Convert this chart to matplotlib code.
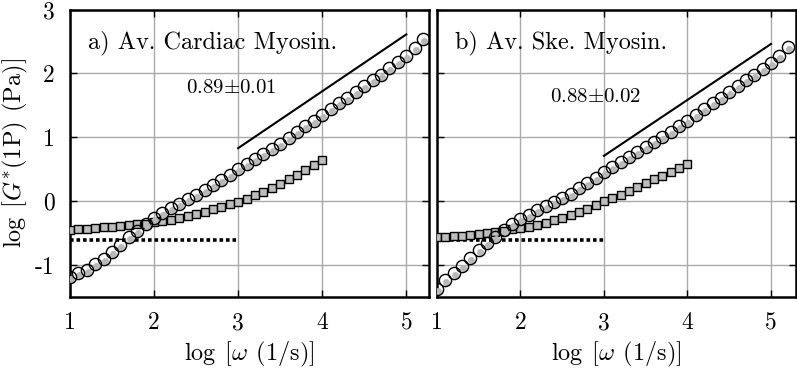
import numpy as np
import matplotlib
matplotlib.use("Agg")
import matplotlib.pyplot as plt
import matplotlib.transforms as mtransforms

plt.rcParams['font.family'] = ['cmr10', 'DejaVu Serif']
plt.rcParams['mathtext.fontset'] = 'cm'
plt.rcParams['axes.unicode_minus'] = False
plt.rcParams['axes.formatter.use_mathtext'] = True

# ---------------- data ----------------
w_circ = [1.0, 1.1, 1.2, 1.3, 1.4, 1.5, 1.6, 1.7, 1.8, 1.9, 2.0, 2.1, 2.2, 2.3, 2.4,
          2.5, 2.6, 2.7, 2.8, 2.9, 3.0, 3.1, 3.2, 3.3, 3.4, 3.5, 3.6, 3.7, 3.8, 3.9,
          4.0, 4.1, 4.2, 4.3, 4.4, 4.5, 4.6, 4.7, 4.8, 4.9, 5.0, 5.1, 5.2]
w_sq = [1.0, 1.1, 1.2, 1.3, 1.4, 1.5, 1.6, 1.7, 1.8, 1.9, 2.0, 2.1, 2.2, 2.3, 2.4,
        2.5, 2.6, 2.7, 2.8, 2.9, 3.0, 3.1, 3.2, 3.3, 3.4, 3.5, 3.6, 3.7, 3.8, 3.9, 4.0]

g_circ_a = [-1.18, -1.13, -1.07, -0.99, -0.90, -0.80, -0.68, -0.56, -0.46, -0.36,
            -0.27, -0.19, -0.11, -0.04, 0.03, 0.10, 0.17, 0.25, 0.33, 0.41,
            0.50, 0.58, 0.66, 0.74, 0.82, 0.90, 0.99, 1.08, 1.17, 1.26,
            1.35, 1.44, 1.53, 1.62, 1.71, 1.80, 1.89, 1.98, 2.08, 2.18,
            2.28, 2.40, 2.54]
g_sq_a = [-0.45, -0.44, -0.43, -0.42, -0.41, -0.40, -0.39, -0.38, -0.36, -0.35,
          -0.33, -0.31, -0.29, -0.26, -0.23, -0.20, -0.17, -0.13, -0.09, -0.05,
          -0.01, 0.04, 0.09, 0.15, 0.21, 0.27, 0.34, 0.41, 0.49, 0.57, 0.65]

g_circ_b = [-1.38, -1.24, -1.13, -1.01, -0.89, -0.77, -0.66, -0.56, -0.45, -0.36,
            -0.28, -0.21, -0.14, -0.08, -0.02, 0.05, 0.12, 0.20, 0.28, 0.36,
            0.45, 0.53, 0.61, 0.69, 0.77, 0.85, 0.93, 1.01, 1.09, 1.17,
            1.26, 1.35, 1.44, 1.53, 1.62, 1.71, 1.80, 1.89, 1.98, 2.07,
            2.16, 2.28, 2.42]
g_sq_b = [-0.56, -0.555, -0.55, -0.54, -0.53, -0.52, -0.50, -0.48, -0.46, -0.44,
          -0.42, -0.40, -0.37, -0.34, -0.30, -0.27, -0.22, -0.17, -0.12, -0.06,
          0.00, 0.05, 0.10, 0.16, 0.22, 0.28, 0.34, 0.40, 0.46, 0.52, 0.58]

fit_x = [3.0, 5.0]
fit_a = [0.83, 2.61]
fit_b = [0.71, 2.46]
plateau_x = [1.0, 3.0]
plateau_a = [-0.6, -0.6]
plateau_b = [-0.6, -0.6]

titles = ['a) Av. Cardiac Myosin.', 'b) Av. Ske. Myosin.']
slopes = [r'$0.89{\pm}0.01$', r'$0.88{\pm}0.02$']
xticks = [1, 2, 3, 4, 5]
yticks = [-1, 0, 1, 2, 3]

# ---------------- figure ----------------
W, H = 797, 369
fig = plt.figure(figsize=(W / 100, H / 100), dpi=100)

def px_axes(l, r, t, b):
    return fig.add_axes([l / W, 1 - b / H, (r - l) / W, (b - t) / H])

axA = px_axes(70, 429, 9.5, 297)
axB = px_axes(437, 796, 9.5, 297)

panels = [
    (axA, g_circ_a, g_sq_a, fit_a, plateau_a, 5.27, (0.45, 0.727)),
    (axB, g_circ_b, g_sq_b, fit_b, plateau_b, 5.30, (0.443, 0.696)),
]

for i, (ax, gc, gs, fit, plat, xmax, spos) in enumerate(panels):
    ax.set_xlim(1, xmax)
    ax.set_ylim(-1.5, 3)
    ax.grid(True, color='#aaaaaa', lw=1.0)
    ax.set_axisbelow(True)
    ax.plot(plateau_x, plat, ls=(0, (1, 0.8)), color='black', lw=2.6, zorder=2)
    ax.plot(w_sq, gs, ls='none', marker='s', ms=5.2, mfc='#bdbdbd',
            mec='black', mew=1.0, zorder=3)
    shifted = mtransforms.offset_copy(ax.transData, fig=fig, x=1.0, y=-2.0,
                                      units='dots')
    ax.plot(w_circ, gc, ls='none', marker='o', ms=5.0, mfc='#b8b8b8',
            mec='none', zorder=4, transform=shifted)
    ax.plot(w_circ, gc, ls='none', marker='o', ms=8.8, mfc='none',
            mec='black', mew=1.0, zorder=5)
    ax.plot(fit_x, fit, color='black', lw=1.5, zorder=6)
    ax.text(0.05, 0.883, titles[i], transform=ax.transAxes, fontsize=17.5,
            ha='left', va='center')
    ax.text(spos[0], spos[1], slopes[i], transform=ax.transAxes,
            fontsize=15, ha='center', va='center')
    ax.set_xticks(xticks)
    ax.set_xticklabels([str(t) for t in xticks])
    ax.set_yticks(yticks)
    ax.tick_params(direction='in', length=5, width=1, top=True, right=True,
                   labelsize=17, pad=11)
    for s in ax.spines.values():
        s.set_linewidth(1.8)
    ax.set_xlabel(r'$\log\;[\omega\;\,(1/\mathrm{s})]$', fontsize=17.5)
    ax.xaxis.set_label_coords(0.5, -(340 - 297) / 287.5)
    if i == 0:
        ax.set_yticklabels([str(t) for t in yticks])
        ax.set_ylabel(r'$\log\;[G^{*}(1\mathrm{P})\;\,(\mathrm{Pa})]$',
                      fontsize=17.5)
        ax.yaxis.set_label_coords(-(70 - 30) / 359, 0.5)
    else:
        ax.set_yticklabels([])

fig.savefig('out.png', dpi=100)
